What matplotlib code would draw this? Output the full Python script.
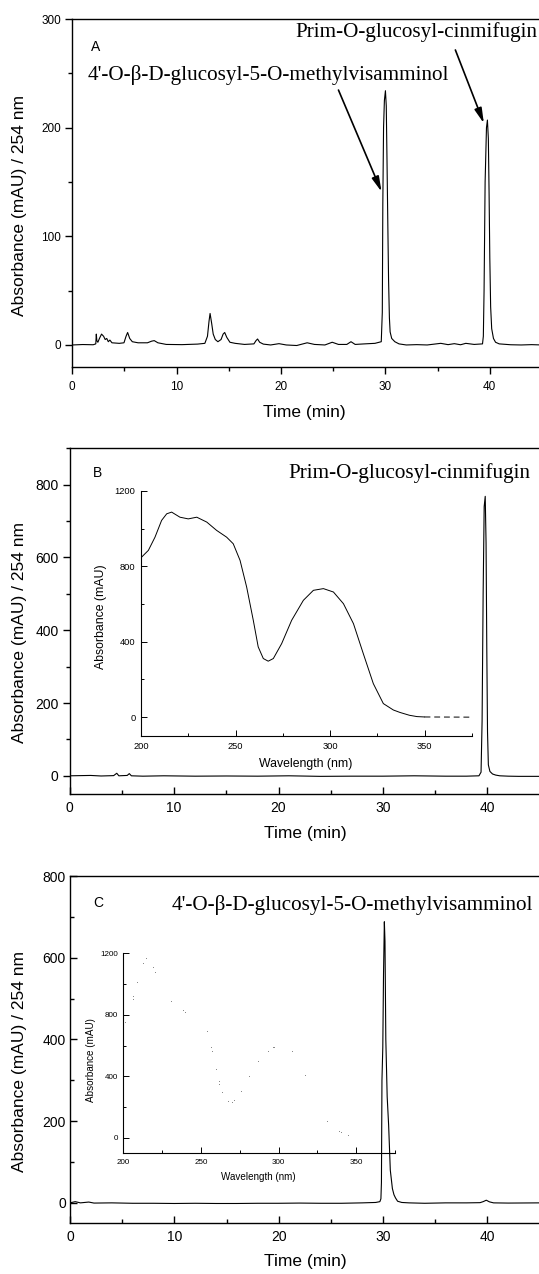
import matplotlib
matplotlib.use("Agg")
import matplotlib.pyplot as plt
from matplotlib.ticker import MultipleLocator

plt.rcParams['font.family'] = ['Liberation Sans', 'DejaVu Sans']
SERIF = ['Liberation Serif', 'DejaVu Serif']

# chromatogram A: (time min, absorbance mAU)
chrom_a = [(0, 0), (1.0, 0.4), (2.0, 0.2), (2.25, 1), (2.3, 10), (2.35, 4), (2.45, 2.5),
           (2.6, 6), (2.8, 10), (3.0, 8), (3.15, 5), (3.3, 6), (3.45, 3), (3.6, 4.5),
           (3.8, 2), (4.5, 1.5), (4.95, 2), (5.15, 8), (5.3, 11.5), (5.5, 6), (5.75, 3),
           (6.3, 2), (7.2, 2), (7.6, 3.5), (7.85, 4), (8.2, 2), (9.0, 0.5), (10.5, 0.3),
           (12.0, 0.8), (12.7, 1.5), (12.95, 8), (13.1, 22), (13.2, 29), (13.35, 20),
           (13.5, 10), (13.7, 5), (13.95, 3), (14.25, 5), (14.45, 10), (14.6, 11.5),
           (14.8, 7), (15.1, 2.5), (15.6, 1.5), (16.5, 0.5), (17.4, 1), (17.6, 4),
           (17.75, 5.5), (17.95, 2.5), (18.3, 0.8), (19.0, 0), (19.8, 1.2), (20.5, 0),
           (21.5, -0.5), (22.5, 2), (23.2, 0.5), (24.2, 0), (24.9, 2.5), (25.5, 0.5),
           (26.3, 0.5), (26.7, 3), (27.1, 0.5), (28.0, 1), (29.0, 1.5), (29.6, 3),
           (29.7, 30), (29.75, 130), (29.82, 200), (29.9, 225), (30.0, 234), (30.08, 220),
           (30.15, 170), (30.23, 110), (30.3, 60), (30.38, 25), (30.45, 12), (30.6, 6),
           (30.9, 3), (31.3, 1), (32.0, 0), (33.0, 0.3), (34.0, 0), (35.3, 1.5), (36.0, 0.3),
           (36.6, 1.2), (37.2, 0.2), (37.7, 1.5), (38.5, 0.5), (39.3, 1), (39.38, 8),
           (39.45, 50), (39.55, 150), (39.68, 200), (39.77, 207), (39.86, 190), (39.93, 140),
           (40.0, 80), (40.08, 35), (40.18, 15), (40.35, 6), (40.55, 2.5), (40.9, 1),
           (42.0, 0.2), (43.0, 0), (44.0, 0.3), (45.0, 0)]

# chromatogram B
chrom_b = [(0, 0), (1, 0.5), (2, 1), (3, -0.5), (4.2, 0.5), (4.5, 7), (4.7, 0), (5.5, 1),
           (5.7, 6), (5.9, 0), (7, -1), (9, 0), (12, -1), (15, -0.5), (18, -1), (21, 0),
           (24, -1.5), (27, -1), (30, -1), (33, 0), (36, -1), (38, -1), (39.2, 0),
           (39.4, 10), (39.5, 150), (39.6, 500), (39.7, 740), (39.8, 768), (39.88, 640),
           (39.95, 350), (40.02, 120), (40.1, 30), (40.25, 12), (40.5, 5), (40.8, 2),
           (41.2, 0), (42, -1), (43, -1.5), (45, -1.5)]

# chromatogram C
chrom_c = [(0, 0), (0.5, 3), (1.0, 0), (1.8, 2), (2.3, -0.5), (4, 0), (6, -1), (8, -1),
           (10, -1.5), (12, -1), (14, -1.5), (16, -1.5), (18, -1), (20, -1), (22, -0.5),
           (24, -1), (26, -1), (28, 0), (29.3, 1), (29.7, 3), (29.8, 10), (29.85, 50),
           (29.9, 300), (29.98, 380), (30.05, 560), (30.13, 688), (30.19, 640), (30.27, 400),
           (30.4, 260), (30.54, 190), (30.7, 80), (30.9, 35), (31.05, 20), (31.2, 12),
           (31.4, 4), (31.8, 1), (32.5, 0), (34, -1), (36, 0), (38, 0), (39.3, 0.5),
           (39.6, 3), (39.9, 6.5), (40.2, 2.5), (40.6, 0), (42, -0.5), (45, 0)]

# UV spectrum of prim-O-glucosyl-cinmifugin (nm, mAU)
spec_b = [(200, 846), (203.9, 885), (207.4, 955), (210.9, 1044), (213.6, 1079),
          (216.2, 1088), (220.6, 1061), (225, 1052), (229.5, 1061), (234.8, 1035),
          (240, 991), (245.3, 955), (248.8, 920), (252.4, 832), (255.9, 690), (259.4, 514),
          (262, 373), (264.7, 311), (267.3, 297), (270, 311), (274.4, 390), (279.7, 514),
          (285.9, 620), (291.2, 673), (296.5, 682), (301.8, 664), (307.1, 602),
          (312.4, 496), (317.6, 337), (322.9, 178), (328.2, 72), (333.5, 38), (337, 25),
          (342, 10), (346, 3), (350, 1)]
spec_b_tail = [(350, 1), (375, 0)]

# UV spectrum of 4'-O-glucosyl-5-O-methylvisamminol, only scattered dots visible
spec_c = [(201, 756), (206, 901), (206.5, 923), (209, 1012), (212.5, 1135), (214.6, 1171),
          (219.4, 1109), (220.6, 1081), (230.8, 890), (238.3, 832), (240, 819), (254, 694),
          (256.8, 594), (257.2, 566), (259.6, 449), (261.5, 372), (261.9, 350), (263.7, 298),
          (267.4, 237), (269.9, 235), (271, 246), (275.5, 302), (281, 404), (286.7, 501),
          (293.2, 564), (296.4, 588), (297, 594), (308.6, 564), (317.2, 406), (331.2, 108),
          (339.2, 45), (340.3, 39), (344.5, 21)]

time_ticks = [0, 10, 20, 30, 40]
wave_ticks = [200, 250, 300, 350]
spec_yticks = [0, 400, 800, 1200]

name_cin = "Prim-O-glucosyl-cinmifugin"
name_vis = "4'-O-\u03b2-D-glucosyl-5-O-methylvisamminol"
ylab = "Absorbance (mAU) / 254 nm"

W, H = 539, 1274
fig = plt.figure(figsize=(W / 100, H / 100), dpi=100)


def box(left, top, right, bottom):
    return [left / W, 1 - bottom / H, (right - left) / W, (bottom - top) / H]


def fpos(x, y):
    return x / W, 1 - y / H


def main_axes(rect, data, ylim, ymajor, yminor, xdir, ydir, size):
    ax = fig.add_axes(rect)
    t = [p[0] for p in data]
    a = [p[1] for p in data]
    ax.plot(t, a, color='k', lw=0.8)
    ax.set_xlim(0, 45)
    ax.set_ylim(*ylim)
    ax.set_xticks(time_ticks)
    ax.xaxis.set_minor_locator(MultipleLocator(5))
    ax.yaxis.set_major_locator(MultipleLocator(ymajor))
    ax.yaxis.set_minor_locator(MultipleLocator(yminor))
    for s in ax.spines.values():
        s.set_linewidth(1.0)
    ax.tick_params(axis='x', which='both', direction=xdir, labelsize=size, pad=5, width=1.0)
    ax.tick_params(axis='y', which='both', direction=ydir, labelsize=size, pad=3, width=1.0)
    ax.tick_params(which='major', length=5)
    ax.tick_params(which='minor', length=3)
    ax.set_xlabel("Time (min)", fontsize=12.5)
    ax.set_ylabel(ylab, fontsize=12.5)
    ax.xaxis.label.set_va('center')
    ax.yaxis.label.set_va('center')
    return ax


def inset_axes(rect, tsize, lsize):
    ax = fig.add_axes(rect)
    ax.patch.set_alpha(0)
    ax.spines['top'].set_visible(False)
    ax.spines['right'].set_visible(False)
    for s in ('left', 'bottom'):
        ax.spines[s].set_linewidth(0.8)
    ax.set_xlim(200, 375)
    ax.set_ylim(-100, 1200)
    ax.set_xticks(wave_ticks)
    ax.xaxis.set_minor_locator(MultipleLocator(25))
    ax.set_yticks(spec_yticks)
    ax.yaxis.set_minor_locator(MultipleLocator(200))
    ax.tick_params(which='both', direction='in', labelsize=tsize, width=0.7, pad=4)
    ax.tick_params(which='major', length=4)
    ax.tick_params(which='minor', length=2.5)
    ax.set_xlabel("Wavelength (nm)", fontsize=lsize)
    ax.set_ylabel("Absorbance (mAU)", fontsize=lsize)
    ax.xaxis.label.set_va('center')
    ax.yaxis.label.set_va('center')
    return ax


# ---- panel A
ax_a = main_axes(box(72.3, 19, 542, 366.7), chrom_a, (-20, 300), 100, 50, 'out', 'out', 8.5)
ax_a.xaxis.set_label_coords(0.495, -0.133)
ax_a.yaxis.set_label_coords(-0.113, 0.465)
fig.text(*fpos(91, 46.7), "A", fontsize=10, va='center', ha='left')
fig.text(*fpos(87.7, 75), name_vis, fontsize=15.2, family=SERIF, va='center', ha='left')
fig.text(*fpos(295, 31.7), name_cin, fontsize=15.2, family=SERIF, va='center', ha='left')
arrow = dict(arrowstyle='-|>,head_length=0.9,head_width=0.22', color='k', lw=1.2,
             shrinkA=0, shrinkB=0)
ax_a.annotate('', xy=(29.63, 141), xytext=(25.5, 234.6), arrowprops=arrow)
ax_a.annotate('', xy=(39.43, 204), xytext=(36.7, 271.5), arrowprops=arrow)

# ---- panel B
ax_b = main_axes(box(69.8, 448.3, 539.5, 794), chrom_b, (-50, 900), 200, 100, 'in', 'out', 10)
ax_b.xaxis.set_label_coords(0.501, -0.113)
ax_b.yaxis.set_label_coords(-0.108, 0.467)
fig.text(*fpos(93, 473.3), "B", fontsize=10, va='center', ha='left')
fig.text(*fpos(288.8, 473), name_cin, fontsize=15.2, family=SERIF, va='center', ha='left')

in_b = inset_axes(box(141, 491, 471.8, 736), 6.7, 8.8)
in_b.plot([p[0] for p in spec_b], [p[1] for p in spec_b], color='k', lw=0.7)
in_b.plot([p[0] for p in spec_b_tail], [p[1] for p in spec_b_tail], color='k', lw=0.7,
          dashes=(6, 4))
in_b.xaxis.set_label_coords(0.498, -0.114)
in_b.yaxis.set_label_coords(-0.122, 0.487)

# ---- panel C
ax_c = main_axes(box(70, 876, 539.5, 1223.3), chrom_c, (-50, 800), 200, 100, 'in', 'in', 10)
ax_c.xaxis.set_label_coords(0.501, -0.111)
ax_c.yaxis.set_label_coords(-0.108, 0.465)
fig.text(*fpos(93.5, 903.3), "C", fontsize=10, va='center', ha='left')
fig.text(*fpos(172, 905), name_vis, fontsize=15.2, family=SERIF, va='center', ha='left')

in_c = inset_axes(box(123.3, 953.3, 395, 1153.3), 5.8, 7.1)
in_c.plot([p[0] for p in spec_c], [p[1] for p in spec_c], ls='none', marker='.',
          ms=1.1, mew=0, color='0.35')
in_c.xaxis.set_label_coords(0.498, -0.12)
in_c.yaxis.set_label_coords(-0.119, 0.467)

fig.savefig("out.png", dpi=100)
